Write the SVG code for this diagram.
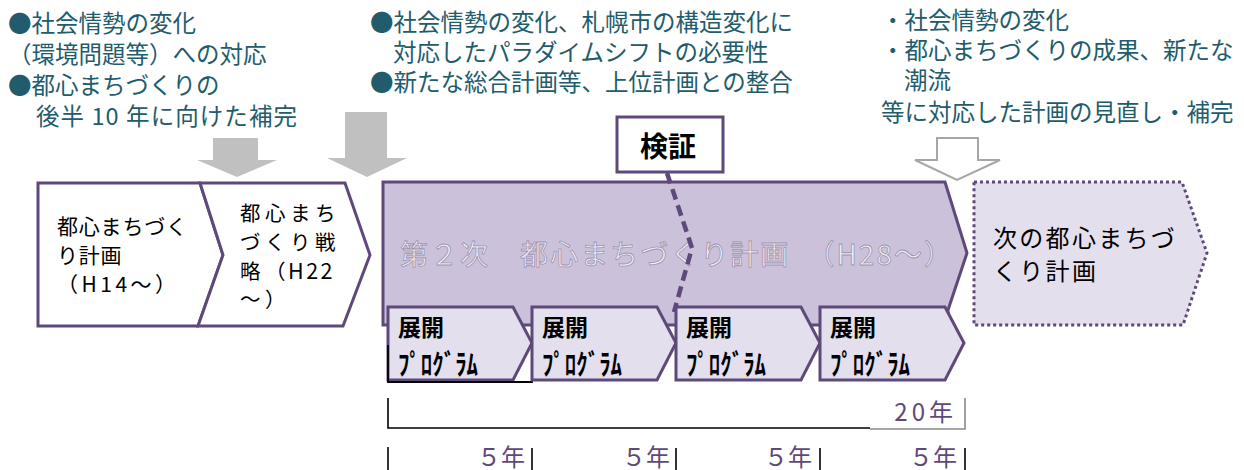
<svg xmlns="http://www.w3.org/2000/svg" width="1244" height="470" viewBox="0 0 1244 470">
<defs>
<style>
.note{font-family:"Noto Sans CJK JP","Noto Sans",sans-serif;font-size:23.5px;fill:#225c6c}
.lbl{font-family:"Noto Sans CJK JP","Noto Sans",sans-serif;fill:#000}
.pur{stroke:#5f497a;stroke-width:3;stroke-linejoin:miter}
.prog{fill:#e4dfec;stroke:#5f497a;stroke-width:3}
.pt{font-family:"Noto Sans CJK JP","Noto Sans",sans-serif;font-weight:bold;font-size:23px;fill:#000}
.pk{font-family:"Noto Sans CJK JP","Noto Sans",sans-serif;font-weight:bold;font-size:28px;fill:#000}
.yr{font-family:"Noto Sans CJK JP","Noto Sans",sans-serif;font-size:24px;fill:#5f497a}
.garrow{fill:#c0c0c0}
</style>
</defs>
<rect width="1244" height="470" fill="#ffffff"/>

<g id="notes">
<text class="note" x="8" y="32">●社会情勢の変化</text>
<text class="note" x="8" y="63">（環境問題等）への対応</text>
<text class="note" x="8" y="94">●都心まちづくりの</text>
<text class="note" x="36" y="125" textLength="261" lengthAdjust="spacing">後半 10 年に向けた補完</text>
<text class="note" x="370" y="31">●社会情勢の変化、札幌市の構造変化に</text>
<text class="note" x="393" y="61">対応したパラダイムシフトの必要性</text>
<text class="note" x="370" y="91">●新たな総合計画等、上位計画との整合</text>
<text class="note" x="881" y="29">・社会情勢の変化</text>
<text class="note" x="881" y="59">・都心まちづくりの成果、新たな</text>
<text class="note" x="904" y="89">潮流</text>
<text class="note" x="881" y="121">等に対応した計画の見直し・補完</text>
</g>

<g id="arrows">
<polygon class="garrow" points="213,138 258,138 258,160 277,160 237,177 197,160 213,160"/>
<polygon class="garrow" points="345,112 387,112 387,158 407,158 367,177 327,158 345,158"/>
<polygon points="937,138 978,138 978,160 1000,160 957,180 915,160 937,160" fill="#ffffff" stroke="#a6a6a6" stroke-width="2"/>
</g>

<g id="node-h14">
<polygon class="pur" fill="#ffffff" points="38,183 200,183 223,255 198,326 38,326"/>
<text class="lbl" font-size="21" letter-spacing="0.8"><tspan x="57" y="234">都心まちづく</tspan><tspan x="57" y="263">り計画</tspan><tspan x="57" y="292" letter-spacing="3.5">（H14～）</tspan></text>
</g>

<g id="node-h22">
<polygon class="pur" fill="#ffffff" points="200,183 345,183 370,255 343,326 198,326 223,255"/>
<text class="lbl" font-size="20.5" letter-spacing="4.5"><tspan x="240" y="221">都心まち</tspan><tspan x="240" y="250">づくり戦</tspan><tspan x="240" y="279">略（</tspan><tspan x="288" y="279" font-size="21.5" letter-spacing="2.5">H22</tspan><tspan x="240" y="307">～）</tspan></text>
</g>

<g id="node-h28">
<polygon class="pur" fill="#ccc1da" points="383,182 945,182 967,253 948,310 948,325 383,325"/>
<text x="400" y="265" font-family="'Noto Sans CJK JP','Noto Sans',sans-serif" font-size="28" fill="#f1eef5" stroke="#9d93b0" stroke-width="0.8" textLength="552" lengthAdjust="spacing">第２次　都心まちづくり計画　（H28～）</text>
</g>

<g id="connectors">
<polyline points="667,173 692,248 674,312" fill="none" stroke="#5f497a" stroke-width="4.5" stroke-dasharray="11 6"/>
</g>

<g id="prog1">
<polygon class="prog" points="388,307 513,307 532,343 513,380 388,380"/>
<path d="M388,345 V382 H532 V367" fill="none" stroke="#000" stroke-width="1.8"/>
<text class="pt" x="398" y="336">展開</text>
<text class="pk" x="398" y="375" textLength="80" lengthAdjust="spacingAndGlyphs">ﾌﾟﾛｸﾞﾗﾑ</text>
</g>
<g id="prog2">
<polygon class="prog" points="532,307 657,307 676,343 657,380 532,380"/>
<text class="pt" x="542" y="336">展開</text>
<text class="pk" x="542" y="375" textLength="80" lengthAdjust="spacingAndGlyphs">ﾌﾟﾛｸﾞﾗﾑ</text>
</g>
<g id="prog3">
<polygon class="prog" points="676,307 801,307 820,343 801,380 676,380"/>
<text class="pt" x="686" y="336">展開</text>
<text class="pk" x="686" y="375" textLength="80" lengthAdjust="spacingAndGlyphs">ﾌﾟﾛｸﾞﾗﾑ</text>
</g>
<g id="prog4">
<polygon class="prog" points="820,307 945,307 964,343 945,380 820,380"/>
<text class="pt" x="830" y="336">展開</text>
<text class="pk" x="830" y="375" textLength="80" lengthAdjust="spacingAndGlyphs">ﾌﾟﾛｸﾞﾗﾑ</text>
</g>

<g id="kensho">
<rect x="617" y="117" width="106" height="55" fill="#ffffff" stroke="#5f497a" stroke-width="3"/>
<text class="lbl" x="668" y="157" font-size="28" font-weight="bold" text-anchor="middle">検証</text>
</g>

<g id="node-next">
<polygon points="974,182 1182,182 1207,253 1183,325 974,325" fill="#e4dfec" stroke="#5f497a" stroke-width="3" stroke-dasharray="3 3"/>
<text class="lbl" font-size="24" letter-spacing="2.3"><tspan x="993" y="247">次の都心まちづ</tspan><tspan x="993" y="280">くり計画</tspan></text>
</g>

<g id="scale">
<path d="M388,398 V428 H870" fill="none" stroke="#000" stroke-width="1.6"/>
<path d="M870,429 H965 V398" fill="none" stroke="#8a8a8a" stroke-width="1.6"/>
<text class="yr" x="957" y="421" text-anchor="end" font-size="26" letter-spacing="4">20年</text>
<g stroke="#000" stroke-width="1.6">
<line x1="388" y1="447" x2="388" y2="470"/>
<line x1="532" y1="448" x2="532" y2="470"/>
<line x1="676" y1="448" x2="676" y2="470"/>
<line x1="820" y1="448" x2="820" y2="470"/>
<line x1="965" y1="448" x2="965" y2="470"/>
</g>
<text class="yr" x="525" y="466" text-anchor="end">５年</text>
<text class="yr" x="670" y="466" text-anchor="end">５年</text>
<text class="yr" x="812" y="466" text-anchor="end">５年</text>
<text class="yr" x="957" y="466" text-anchor="end">５年</text>
</g>
</svg>
